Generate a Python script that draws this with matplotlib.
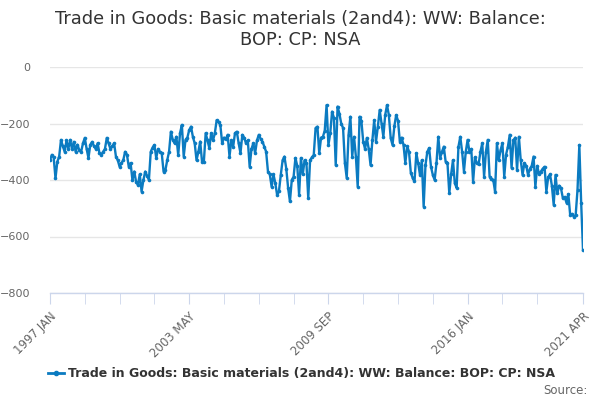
import numpy as np
import matplotlib
matplotlib.use('Agg')
import matplotlib.pyplot as plt

# monthly balance, 1997 JAN .. 2021 APR
y1997 = [-330, -311, -320, -394, -335, -317, -258, -280, -300, -260, -290, -258]
y1998 = [-290, -265, -300, -275, -295, -300, -270, -251, -290, -322, -275, -265]
y1999 = [-280, -290, -270, -305, -310, -300, -290, -251, -270, -290, -280, -270]
y2000 = [-317, -330, -353, -340, -330, -300, -310, -353, -340, -400, -370, -406]
y2001 = [-418, -380, -441, -400, -370, -385, -400, -300, -285, -276, -322, -290]
y2002 = [-300, -305, -370, -365, -330, -300, -229, -257, -270, -247, -311, -234]
y2003 = [-205, -317, -257, -250, -223, -211, -247, -270, -330, -300, -264, -335]
y2004 = [-335, -234, -260, -287, -234, -260, -234, -188, -195, -205, -270, -250]
y2005 = [-255, -240, -317, -260, -282, -234, -229, -270, -305, -240, -250, -270]
y2006 = [-260, -353, -290, -270, -305, -260, -240, -255, -264, -282, -300, -370]
y2007 = [-380, -424, -380, -411, -453, -440, -382, -330, -317, -360, -428, -476]
y2008 = [-400, -388, -322, -350, -453, -322, -380, -330, -340, -464, -330, -320]
y2009 = [-311, -216, -211, -305, -250, -247, -225, -135, -276, -235, -158, -180]
y2010 = [-347, -140, -165, -200, -216, -340, -393, -240, -176, -317, -247, -317]
y2011 = [-424, -176, -190, -264, -290, -251, -290, -347, -260, -188, -264, -211]
y2012 = [-152, -200, -247, -170, -135, -170, -251, -276, -210, -170, -190, -264]
y2013 = [-250, -276, -340, -280, -300, -375, -393, -405, -305, -340, -382, -330]
y2014 = [-494, -347, -300, -287, -353, -382, -400, -340, -247, -322, -300, -282]
y2015 = [-335, -340, -447, -380, -330, -411, -428, -282, -247, -300, -370, -300]
y2016 = [-258, -300, -290, -406, -320, -340, -345, -300, -270, -388, -300, -258]
y2017 = [-388, -395, -400, -441, -270, -330, -294, -270, -388, -310, -282, -240]
y2018 = [-357, -260, -250, -365, -247, -330, -382, -340, -350, -382, -360, -350]
y2019 = [-317, -424, -350, -380, -370, -360, -353, -441, -390, -380, -420, -488]
y2020 = [-382, -447, -420, -430, -464, -460, -481, -450, -524, -520, -530, -524]
y2021 = [-435, -276, -481, -648]

values = (y1997 + y1998 + y1999 + y2000 + y2001 + y2002 + y2003 + y2004 + y2005
          + y2006 + y2007 + y2008 + y2009 + y2010 + y2011 + y2012 + y2013
          + y2014 + y2015 + y2016 + y2017 + y2018 + y2019 + y2020 + y2021)

label_pos = [0, 76, 152, 228, 291]
label_txt = ['1997 JAN', '2003 MAY', '2009 SEP', '2016 JAN', '2021 APR']
series_name = 'Trade in Goods: Basic materials (2and4): WW: Balance: BOP: CP: NSA'
title = 'Trade in Goods: Basic materials (2and4): WW: Balance:\nBOP: CP: NSA'

blue = '#0b7bc1'
x = np.arange(len(values))

fig = plt.figure(figsize=(6, 4), dpi=100)
ax = fig.add_axes([50 / 600, 1 - 293 / 400, 533 / 600, 226 / 400])

ax.plot(x, values, color=blue, lw=1.7, marker='o', ms=2.6,
        markeredgewidth=0, zorder=3)

ax.set_xlim(0, len(values) - 1)
ax.set_ylim(-800, 0)
ax.set_yticks([0, -200, -400, -600, -800])
ax.grid(axis='y', color='#e6e6e6', lw=1)
ax.set_axisbelow(True)

for s in ['top', 'right', 'left']:
    ax.spines[s].set_visible(False)
ax.spines['bottom'].set_color('#ccd6eb')
ax.spines['bottom'].set_linewidth(1)

# ticks every 19 months, labels on every 4th plus the last month
ax.set_xticks(list(range(0, 267, 19)) + [291], minor=True)
ax.set_xticks(label_pos)
ax.set_xticklabels(label_txt, rotation=45, ha='right', rotation_mode='anchor')
ax.tick_params(axis='x', which='both', length=8, color='#ccd6eb',
               labelsize=8.5, labelcolor='#666666', pad=4)
ax.tick_params(axis='y', length=0, labelsize=8, labelcolor='#666666', pad=14)

fig.text(0.5, 0.975, title, ha='center', va='top', fontsize=12.8,
         color='#333333', linespacing=1.2)

# legend row at the bottom
fig.lines.append(plt.Line2D([48 / 600, 64 / 600], [1 - 373 / 400] * 2,
                            color=blue, lw=2, transform=fig.transFigure))
fig.lines.append(plt.Line2D([56 / 600], [1 - 373 / 400], color=blue,
                            marker='o', ms=3, transform=fig.transFigure))
fig.text(68 / 600, 1 - 373 / 400, series_name, ha='left', va='center',
         fontsize=9, fontweight='bold', color='#333333')
fig.text(588 / 600, 1 - 390 / 400, 'Source:', ha='right', va='center',
         fontsize=8.5, color='#666666')

fig.savefig('out.png', dpi=100)
